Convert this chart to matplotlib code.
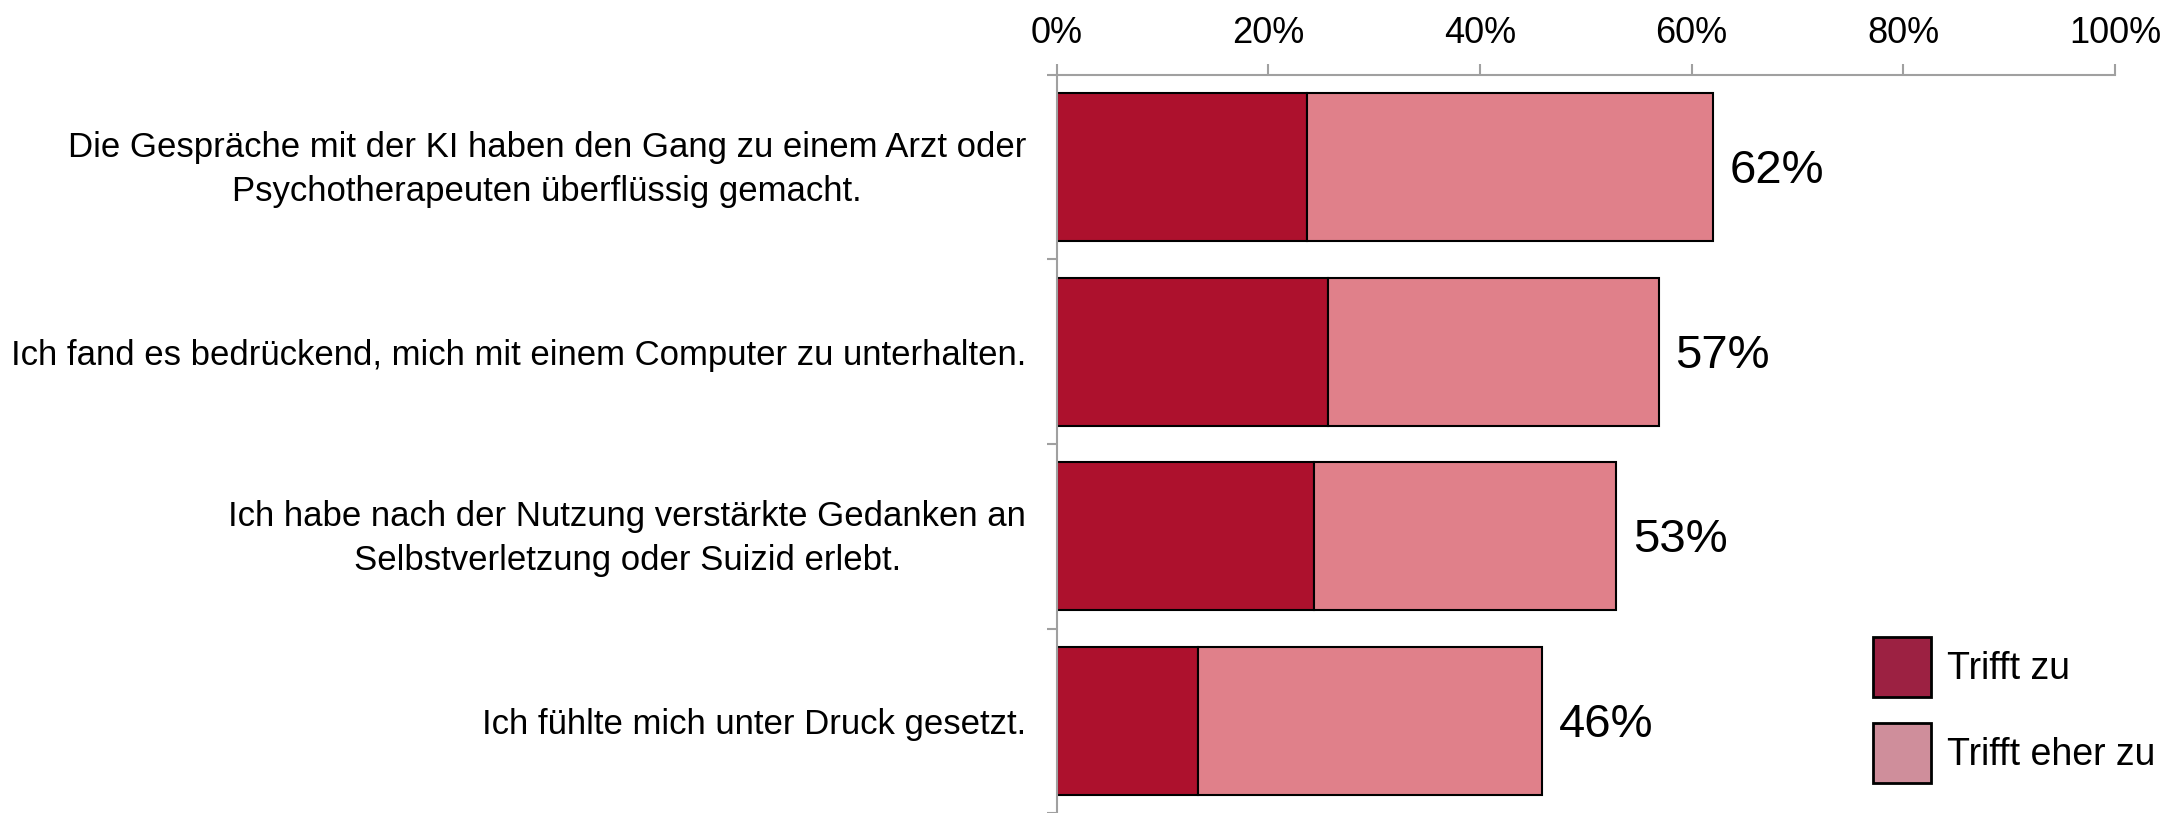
import numpy as np
import matplotlib.pyplot as plt
from matplotlib.patches import Patch
from matplotlib.transforms import ScaledTranslation

plt.rcParams['font.family'] = ['Liberation Sans', 'DejaVu Sans']

# statements, share "Trifft zu" and "Trifft eher zu" in percent
labels = [
    "Die Gespräche mit der KI haben den Gang zu einem Arzt oder\nPsychotherapeuten überflüssig gemacht.",
    "Ich fand es bedrückend, mich mit einem Computer zu unterhalten.",
    "Ich habe nach der Nutzung verstärkte Gedanken an\nSelbstverletzung oder Suizid erlebt.",
    "Ich fühlte mich unter Druck gesetzt.",
]
trifft_zu = [23.7, 25.6, 24.3, 13.4]
trifft_eher_zu = [38.3, 31.3, 28.6, 32.5]
totals = [62, 57, 53, 46]
series_names = ["Trifft zu", "Trifft eher zu"]

dark = '#AD112D'
light = '#E0808A'
grey = '#A0A0A0'

fig = plt.figure(figsize=(21.67, 8.13), dpi=100)
ax = fig.add_axes([1056.6 / 2167, 0.0, 1058.4 / 2167, 1 - 75 / 813])

y = np.arange(len(labels))
ax.barh(y, trifft_zu, height=0.8, color=dark, edgecolor='black', linewidth=1.5)
ax.barh(y, trifft_eher_zu, left=trifft_zu, height=0.8, color=light,
        edgecolor='black', linewidth=1.5)

for i, t in enumerate(totals):
    ax.annotate(f"{t}%", xy=(trifft_zu[i] + trifft_eher_zu[i], i), xytext=(12, -3),
                textcoords='offset points', va='center', ha='left', fontsize=34)

ax.set_xlim(0, 100)
ax.set_ylim(len(labels) - 0.5, -0.5)

# x axis on top
ax.xaxis.tick_top()
ax.set_xticks(np.arange(0, 101, 20))
ax.set_xticklabels([f"{v}%" for v in range(0, 101, 20)])
ax.tick_params(axis='x', which='major', direction='out', length=8, width=1.5,
               color=grey, labelsize=26, pad=9)

# category labels, separators as minor ticks
ax.set_yticks(y)
ax.set_yticklabels(labels)
ax.set_yticks(np.arange(-0.5, len(labels), 1), minor=True)
ax.tick_params(axis='y', which='major', length=0, labelsize=25, pad=22)
ax.tick_params(axis='y', which='minor', direction='out', length=7.5, width=1.5, color=grey)
lift = ScaledTranslation(0, 5 / 72, fig.dpi_scale_trans)
for lab in ax.get_yticklabels():
    lab.set_multialignment('center')
    lab.set_linespacing(1.42)
    if "\n" in lab.get_text():
        lab.set_transform(lab.get_transform() + lift)

for s in ['right', 'bottom']:
    ax.spines[s].set_visible(False)
for s in ['top', 'left']:
    ax.spines[s].set_color(grey)
    ax.spines[s].set_linewidth(1.5)

handles = [Patch(facecolor='#9C2142', edgecolor='black', linewidth=2),
           Patch(facecolor='#CF8E9B', edgecolor='black', linewidth=2)]
fig.legend(handles, series_names, loc='upper left',
           bbox_to_anchor=(1873 / 2167, 1 - 637 / 813), frameon=False,
           fontsize=27, handlelength=1.55, handleheight=2.1,
           handletextpad=0.42, labelspacing=0.68, borderpad=0, borderaxespad=0)

plt.savefig("out.png", dpi=100)
